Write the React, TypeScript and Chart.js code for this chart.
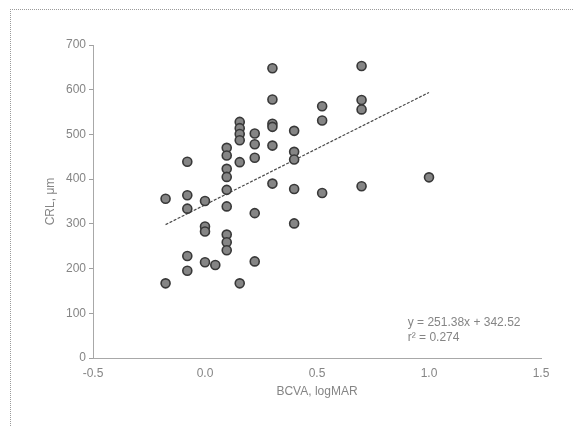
import React, { useEffect, useRef } from "react";
import { Chart, registerables } from "chart.js";

Chart.register(...registerables);

// BCVA (logMAR) columns and CRT values
const bcvaLevels = [-0.176, -0.079, 0, 0.046, 0.097, 0.155, 0.222, 0.301, 0.398, 0.523, 0.699, 1.0];
const crlByLevel: number[][] = [
  [356, 167],
  [439, 364, 334, 228, 195],
  [351, 294, 283, 214],
  [208],
  [470, 453, 423, 405, 376, 339, 276, 259, 241],
  [528, 514, 501, 487, 438, 167],
  [502, 478, 448, 324, 216],
  [648, 578, 524, 517, 475, 390],
  [508, 461, 444, 378, 301],
  [563, 531, 369],
  [653, 577, 556, 384],
  [404],
];
const slope = 251.38;
const intercept = 342.52;
const r2 = 0.274;
const xTicks = [-0.5, 0, 0.5, 1.0, 1.5];
const yTicks = [0, 100, 200, 300, 400, 500, 600, 700];

const FONT = "'Liberation Sans', Arial, sans-serif";
const TXT = "#858585";

export default function App() {
  const ref = useRef<HTMLCanvasElement | null>(null);
  useEffect(() => {
    if (!ref.current) return;
    const points: { x: number; y: number }[] = [];
    bcvaLevels.forEach((x, i) => crlByLevel[i].forEach((y) => points.push({ x, y })));
    const xMin = Math.min(...bcvaLevels);
    const xMax = Math.max(...bcvaLevels);
    const fit = [
      { x: xMin, y: slope * xMin + intercept },
      { x: xMax, y: slope * xMax + intercept },
    ];

    const framePlugin = {
      id: "frame",
      beforeDraw(chart: any) {
        const ctx = chart.ctx;
        ctx.save();
        ctx.strokeStyle = "#9a9a9a";
        ctx.lineWidth = 1;
        ctx.setLineDash([1, 1]);
        ctx.beginPath();
        ctx.moveTo(10, 9.5);
        ctx.lineTo(chart.width, 9.5);
        ctx.moveTo(10.5, 9);
        ctx.lineTo(10.5, chart.height);
        ctx.stroke();
        ctx.restore();
      },
    };
    const eqPlugin = {
      id: "eq",
      afterDatasetsDraw(chart: any) {
        const ctx = chart.ctx;
        const xs = chart.scales.x;
        const ys = chart.scales.y;
        const px = xs.getPixelForValue(0.905);
        const py = ys.getPixelForValue(78);
        ctx.save();
        ctx.font = `12px ${FONT}`;
        ctx.fillStyle = TXT;
        ctx.textAlign = "left";
        ctx.textBaseline = "middle";
        ctx.fillText(`y = ${slope.toFixed(2)}x + ${intercept.toFixed(2)}`, px, py);
        ctx.fillText(`r² = ${r2.toFixed(3)}`, px, py + 15);
        ctx.restore();
      },
    };

    const chart = new Chart(ref.current, {
      type: "scatter",
      data: {
        datasets: [
          {
            data: points,
            backgroundColor: "#858585",
            borderColor: "#383838",
            borderWidth: 1.6,
            pointRadius: 4.5,
            order: 1,
          },
          {
            type: "line",
            data: fit,
            showLine: true,
            borderColor: "#4a4a4a",
            borderWidth: 1.2,
            borderDash: [3, 1.5],
            pointRadius: 0,
            order: 2,
          } as any,
        ],
      },
      options: {
        animation: false,
        responsive: false,
        events: [],
        layout: { padding: { left: 43, top: 45, right: 33, bottom: 23 } },
        plugins: { legend: { display: false }, tooltip: { enabled: false } },
        scales: {
          x: {
            type: "linear",
            min: -0.5,
            max: 1.5,
            afterBuildTicks: (s: any) => {
              s.ticks = xTicks.map((v) => ({ value: v }));
            },
            afterFit: (s: any) => {
              s.height = 45;
            },
            ticks: {
              padding: 8,
              color: TXT,
              font: { family: FONT, size: 12 },
              callback: (v: any) => Number(v).toFixed(1),
            },
            grid: { display: false, drawTicks: false },
            border: { display: true, color: "#a8a8a8", dash: [1, 2] },
            title: {
              display: true,
              text: "BCVA, logMAR",
              color: TXT,
              font: { family: FONT, size: 12 },
              padding: { top: 4, bottom: 4 },
            },
          },
          y: {
            type: "linear",
            min: 0,
            max: 700,
            afterBuildTicks: (s: any) => {
              s.ticks = yTicks.map((v) => ({ value: v }));
            },
            afterFit: (s: any) => {
              s.width = 50;
            },
            ticks: {
              padding: 3,
              color: TXT,
              font: { family: FONT, size: 12 },
            },
            grid: {
              display: true,
              drawOnChartArea: false,
              drawTicks: true,
              tickLength: 4,
              color: "#a0a0a0",
            },
            border: { display: true, color: "#a8a8a8", dash: [1, 2] },
            title: {
              display: true,
              text: "CRL, μm",
              color: TXT,
              font: { family: FONT, size: 12 },
              padding: { top: 0, bottom: 0 },
            },
          },
        },
      },
      plugins: [framePlugin, eqPlugin],
    });
    return () => chart.destroy();
  }, []);
  return (
    <div style={{ position: "absolute", left: 0, top: 0, width: 574, height: 426, background: "#fff" }}>
      <canvas ref={ref} width={574} height={426} />
    </div>
  );
}
